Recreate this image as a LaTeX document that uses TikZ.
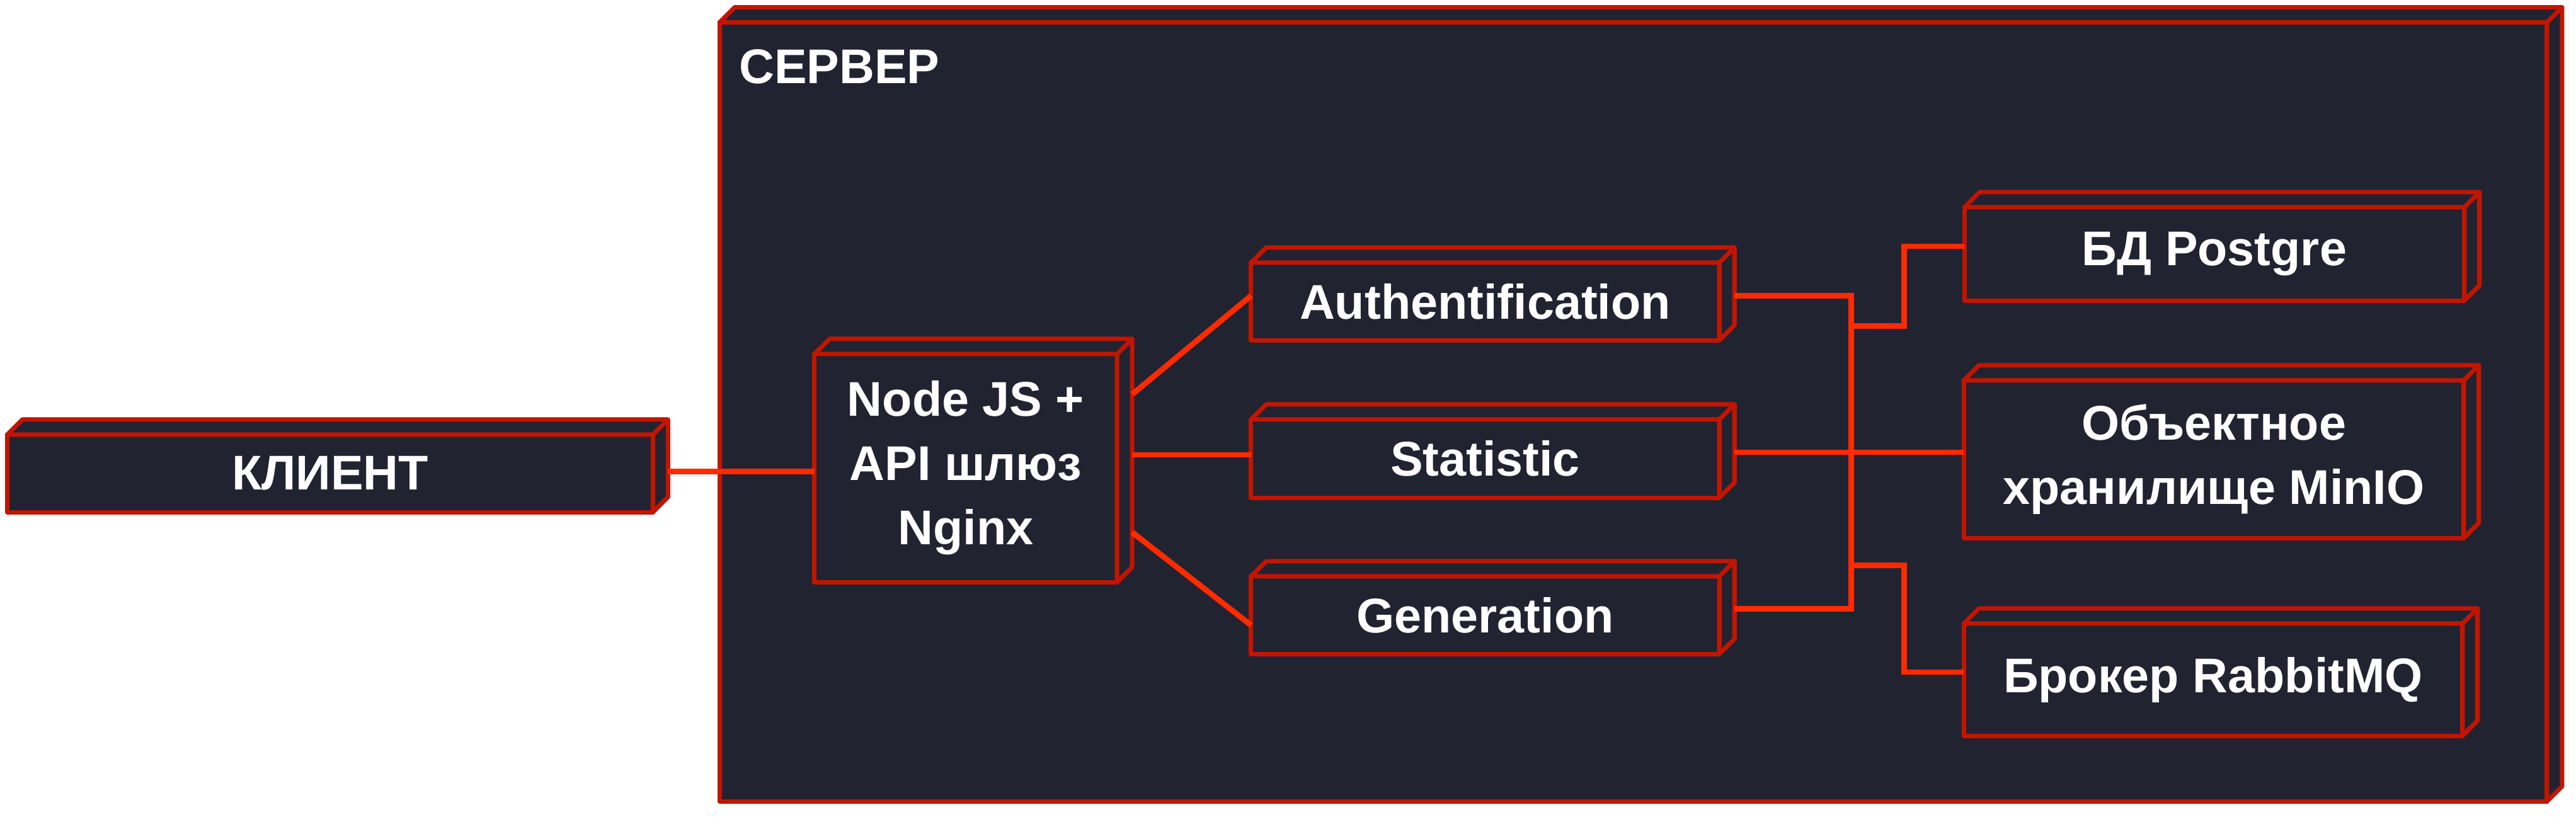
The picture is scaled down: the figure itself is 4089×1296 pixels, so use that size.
\documentclass[tikz,border=0pt]{standalone}
\usepackage{fontspec}
\setmainfont{Liberation Sans}
\usepackage{xcolor}
\usepackage{tikz}
\usetikzlibrary{calc}

\definecolor{boxred}{HTML}{C21500}
\definecolor{wirered}{HTML}{FF2B00}
\definecolor{boxfill}{HTML}{222331}

\tikzset{
	unitbox/.style={draw=boxred,fill=boxfill,line width=2pt,line join=round,outer sep=0pt,inner sep=0pt,text=white,font=\fontsize{22}{29}\selectfont\bfseries,align=center},
	depthface/.style={draw=boxred,fill=boxfill,line width=2pt,line join=round},
	wire/.style={draw=wirered,line width=2.5pt}
}

\newcommand{\cubeback}[1]{%
	\draw[depthface] (#1.north west) -- ++(24,-24) -- ($(#1.north east)+(24,-24)$) -- ($(#1.south east)+(24,-24)$) -- (#1.south east) -- (#1.north east) -- cycle;
	\draw[boxred,line width=2pt] (#1.north east) -- ++(24,-24);
}

\begin{document}
\begin{tikzpicture}[x=0.01cm,y=-0.01cm]
	\useasboundingbox (0,0) rectangle (4089,1296);

	\node[unitbox,minimum width=28.99cm,minimum height=12.36cm] (server) at (2592.5,654) {};
	\cubeback{server}
	\node[anchor=base west,text=white,font=\fontsize{22}{29}\selectfont\bfseries] (servertitle) at (1161,132) {СЕРВЕР};

	\node[unitbox,minimum width=10.24cm,minimum height=1.23cm] (client) at (524,751.5) {КЛИЕНТ};
	\node[unitbox,minimum width=4.80cm,minimum height=3.62cm] (nodejs) at (1533,743) {Node JS +\\API шлюз\\Nginx};

	\node[unitbox,minimum width=7.43cm,minimum height=1.23cm] (auth) at (2357.5,478.5) {Authentification};
	\node[unitbox,minimum width=7.43cm,minimum height=1.24cm] (stat) at (2357.5,728) {Statistic};
	\node[unitbox,minimum width=7.43cm,minimum height=1.23cm] (gen) at (2357.5,976.5) {Generation};

	\node[unitbox,minimum width=7.93cm,minimum height=1.48cm] (db) at (3515,403) {БД Postgre};
	\node[unitbox,minimum width=7.93cm,minimum height=2.50cm] (minio) at (3514,729) {Объектное\\хранилище MinIO};
	\node[unitbox,minimum width=7.91cm,minimum height=1.78cm] (broker) at (3513,1079) {Брокер RabbitMQ};

	\foreach \n in {client,nodejs,auth,stat,gen,db,minio,broker}{
		\cubeback{\n}
	}

	\draw[wire] ($(client.east)+(24,-3)$) -- (nodejs.west |- {$(client.east)+(24,-3)$});

	\draw[wire] ($(nodejs.east)+(24,-117)$) -- ($(auth.west)+(0,-9)$);
	\draw[wire] ($(nodejs.east)+(24,-21)$) -- (stat.west |- {$(nodejs.east)+(24,-21)$});
	\draw[wire] ($(nodejs.east)+(24,102)$) -- ($(gen.west)+(0,16)$);

	\draw[wire] ($(auth.east)+(24,-9)$) -- ++(185,0) coordinate (bustop) -- ($(gen.east)+(209,-10)$) coordinate (busbot) -- ($(gen.east)+(24,-10)$);
	\draw[wire] ($(stat.east)+(24,-10)$) -- (minio.west |- {$(stat.east)+(24,-10)$});

	\coordinate (jtop) at ($(bustop)+(0,48)$);
	\coordinate (jbot) at ($(busbot)+(0,-69)$);
	\draw[wire] (jtop) -- ++(84,0) |- ($(db.west)+(0,-12)$);
	\draw[wire] (jbot) -- ++(84,0) |- ($(broker.west)+(0,-12)$);
\end{tikzpicture}
\end{document}
